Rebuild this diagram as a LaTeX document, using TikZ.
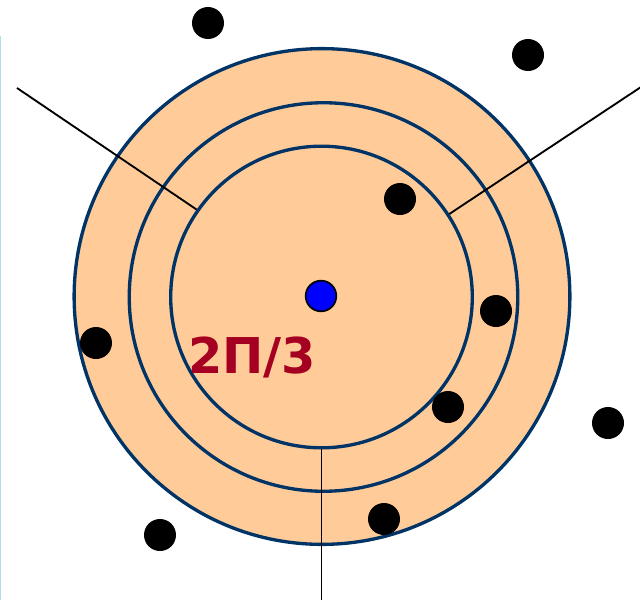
\documentclass[tikz,border=0pt]{standalone}
\usepackage{fontspec}
\newfontfamily\dvsans{DejaVu Sans}
\definecolor{peach}{HTML}{FFCC99}
\definecolor{ringc}{HTML}{003366}
\definecolor{labelred}{HTML}{A50021}
\definecolor{edgecyan}{HTML}{B0E0E6}
\begin{document}
\begin{tikzpicture}[x=0.75pt,y=-0.75pt,
  ring/.style={circle,draw=ringc,line width=2.5pt,fill=peach,inner sep=0pt},
  blackdot/.style={circle,fill=black,minimum size=24pt,inner sep=0pt},
  spoke/.style={draw=black,line width=1.4pt},
  lbl/.style={text=labelred,font=\dvsans\bfseries\fontsize{37}{40}\selectfont,inner sep=0pt}]
\useasboundingbox (0,0) rectangle (640,600);
\draw[edgecyan,line width=1pt] (0.6,36) -- (0.6,600);
\node[ring,minimum size=371.8pt] (outer) at (322,296.5) {};
\node[ring,minimum size=291.4pt] (middle) at (323.5,297) {};
\node[ring,minimum size=226.2pt] (inner) at (321.5,297) {};
\coordinate (tl) at (17,88);
\coordinate (tr) at (641,87);
\coordinate (bt) at (321.5,601);
\draw[spoke] (inner.145.6) -- (tl);
\draw[spoke] (inner.33) -- (tr);
\draw[spoke] (inner.south) -- (bt);
\node[circle,fill=blue,draw=black,line width=1.3pt,minimum size=23pt,inner sep=0pt] (nucleus) at (321,296) {};
\node[lbl] (angle) at (252,357) {2Π/3};
\node[blackdot] (d1) at (208,23) {};
\node[blackdot] (d2) at (528,55) {};
\node[blackdot] (d3) at (400,199) {};
\node[blackdot] (d4) at (496,311) {};
\node[blackdot] (d5) at (96,343) {};
\node[blackdot] (d6) at (448,407) {};
\node[blackdot] (d7) at (608,423) {};
\node[blackdot] (d8) at (160,535) {};
\node[blackdot] (d9) at (384,519) {};
\end{tikzpicture}
\end{document}
